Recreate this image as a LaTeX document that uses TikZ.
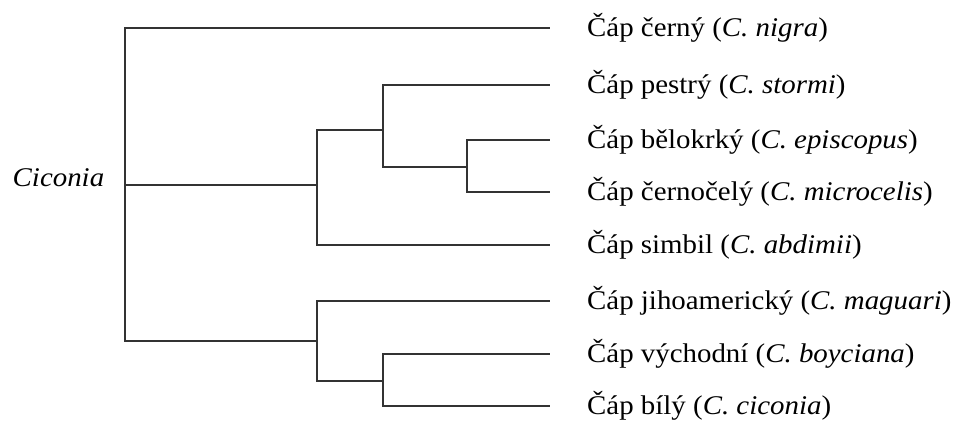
\documentclass[tikz,border=0pt]{standalone}
\usepackage{fontspec}
\setmainfont{Liberation Serif}[FakeStretch=1.07]
\begin{document}
\begin{tikzpicture}[x=1pt,y=-1pt,
  br/.style={draw=black!80,line width=1.3pt,line cap=rect},
  leaf/.style={anchor=base west,inner sep=0pt,font=\fontsize{27}{32}\selectfont}]
\useasboundingbox (0,0) rectangle (959,426);
% junction coordinates
\coordinate (root) at (125,185);
\coordinate (rtop) at (125,28);
\coordinate (rbot) at (125,341);
\coordinate (a) at (317,185);
\coordinate (atop) at (317,130);
\coordinate (abot) at (317,245);
\coordinate (b) at (383,130);
\coordinate (btop) at (383,85);
\coordinate (bbot) at (383,167);
\coordinate (c) at (467,167);
\coordinate (ctop) at (467,140);
\coordinate (cbot) at (467,192);
\coordinate (d) at (317,341);
\coordinate (dtop) at (317,301);
\coordinate (dbot) at (317,381);
\coordinate (e) at (383,381);
\coordinate (etop) at (383,354);
\coordinate (ebot) at (383,406);
% leaf ends
\coordinate (l1) at (549,28);
\coordinate (l2) at (549,85);
\coordinate (l3) at (549,140);
\coordinate (l4) at (549,192);
\coordinate (l5) at (549,245);
\coordinate (l6) at (549,301);
\coordinate (l7) at (549,354);
\coordinate (l8) at (549,406);
% labels
\node[leaf] (t0) at (12.5,186) {\textit{Ciconia}};
\node[leaf] (t1) at (587,36) {Čáp černý (\textit{C. nigra})};
\node[leaf] (t2) at (587,93) {Čáp pestrý (\textit{C. stormi})};
\node[leaf] (t3) at (587,148) {Čáp bělokrký (\textit{C. episcopus})};
\node[leaf] (t4) at (587,200) {Čáp černočelý (\textit{C. microcelis})};
\node[leaf] (t5) at (587,253) {Čáp simbil (\textit{C. abdimii})};
\node[leaf] (t6) at (587,309) {Čáp jihoamerický (\textit{C. maguari})};
\node[leaf] (t7) at (587,362) {Čáp východní (\textit{C. boyciana})};
\node[leaf] (t8) at (587,414) {Čáp bílý (\textit{C. ciconia})};
% branches
\draw[br] (l1) -- (rtop) -- (rbot) -- (d);
\draw[br] (root) -- (a);
\draw[br] (atop) -- (abot) -- (l5);
\draw[br] (atop) -- (b);
\draw[br] (l2) -- (btop) -- (bbot) -- (c);
\draw[br] (l3) -- (ctop) -- (cbot) -- (l4);
\draw[br] (l6) -- (dtop) -- (dbot) -- (e);
\draw[br] (l7) -- (etop) -- (ebot) -- (l8);
\end{tikzpicture}
\end{document}
